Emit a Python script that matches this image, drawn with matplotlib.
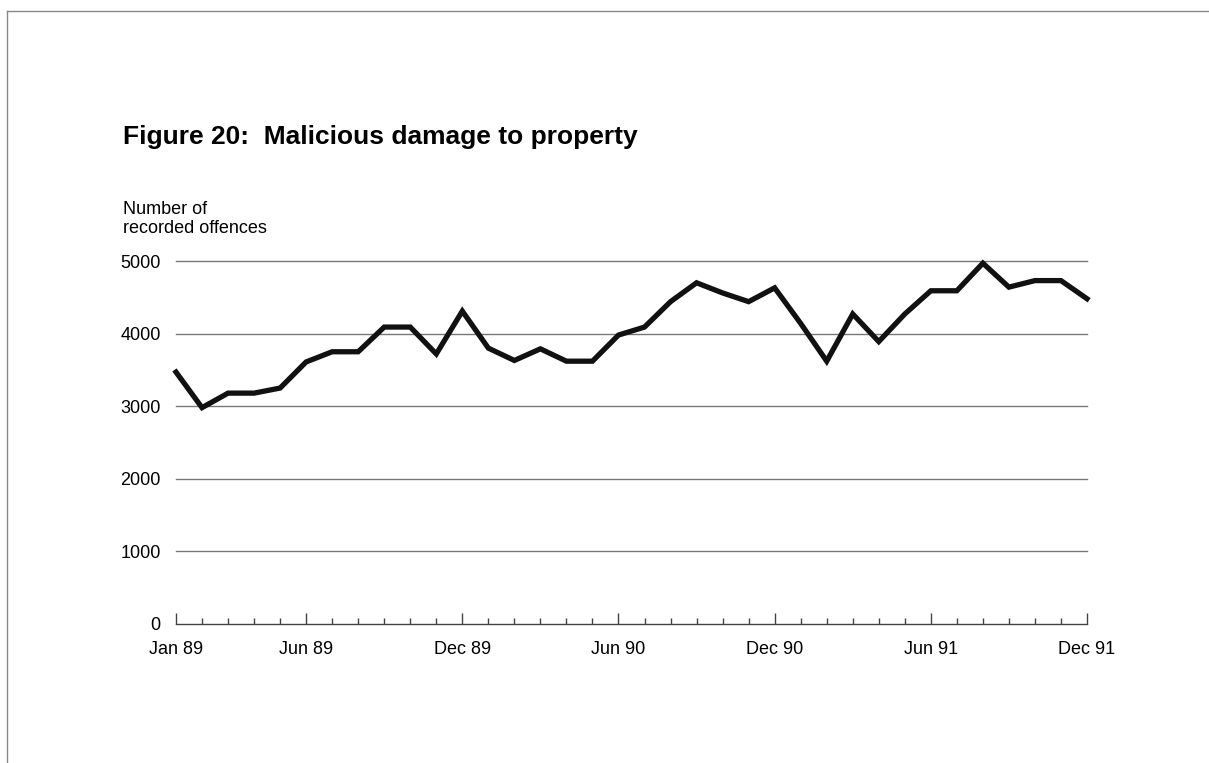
import matplotlib.pyplot as plt
from matplotlib.lines import Line2D

# recorded offences, monthly Jan 89 - Dec 91
months = ['Jan 89', 'Feb 89', 'Mar 89', 'Apr 89', 'May 89', 'Jun 89',
          'Jul 89', 'Aug 89', 'Sep 89', 'Oct 89', 'Nov 89', 'Dec 89',
          'Jan 90', 'Feb 90', 'Mar 90', 'Apr 90', 'May 90', 'Jun 90',
          'Jul 90', 'Aug 90', 'Sep 90', 'Oct 90', 'Nov 90', 'Dec 90',
          'Jan 91', 'Feb 91', 'Mar 91', 'Apr 91', 'May 91', 'Jun 91',
          'Jul 91', 'Aug 91', 'Sep 91', 'Oct 91', 'Nov 91', 'Dec 91']
offences = [3470, 2980, 3180, 3180, 3250, 3610,
            3750, 3750, 4090, 4090, 3720, 4310,
            3800, 3630, 3790, 3620, 3620, 3980,
            4090, 4440, 4700, 4560, 4440, 4630,
            4140, 3620, 4270, 3890, 4270, 4590,
            4590, 4970, 4640, 4730, 4730, 4480]
labelled = ['Jan 89', 'Jun 89', 'Dec 89', 'Jun 90', 'Dec 90', 'Jun 91', 'Dec 91']
yticks = [0, 1000, 2000, 3000, 4000, 5000]

sans = ['Liberation Sans', 'DejaVu Sans']
W, H = 1209, 763

fig = plt.figure(figsize=(W / 100, H / 100), dpi=100)
ax = fig.add_axes([176 / W, (H - 624) / H, (1087 - 176) / W, (624 - 261) / H])

x = list(range(len(months)))
ax.plot(x, offences, color='#111111', lw=3.8, solid_joinstyle='miter', clip_on=False, zorder=3)

ax.set_xlim(0, len(months) - 1)
ax.set_ylim(0, 5000)

for y in yticks[1:]:
    ax.axhline(y, color='#777777', lw=1.0, zorder=1, clip_on=False)

for s in ['top', 'right', 'left']:
    ax.spines[s].set_visible(False)
ax.spines['bottom'].set_color('#444444')
ax.spines['bottom'].set_linewidth(1.0)

major = [months.index(m) for m in labelled]
minor = [i for i in x if i not in major]
ax.set_xticks(major)
ax.set_xticklabels(labelled, family=sans, fontsize=13)
ax.set_xticks(minor, minor=True)
ax.tick_params(axis='x', which='major', direction='in', length=8, width=1, color='#444444', pad=12)
ax.tick_params(axis='x', which='minor', direction='in', length=4, width=1, color='#444444')

ax.set_yticks(yticks)
ax.set_yticklabels([str(v) for v in yticks], family=sans, fontsize=13)
ax.tick_params(axis='y', length=0, pad=11)

fig.text(123 / W, 1 - 137 / H, 'Figure 20:  Malicious damage to property',
         fontsize=19, fontweight='bold', family=sans, va='center', ha='left')
fig.text(123 / W, 1 - 219 / H, 'Number of\nrecorded offences', family=sans,
         fontsize=13, va='center', ha='left', linespacing=1.15)

# page frame
fig.add_artist(Line2D([7 / W, 1], [1 - 11 / H, 1 - 11 / H], color='#888888', lw=1))
fig.add_artist(Line2D([7 / W, 7 / W], [1 - 11 / H, 0], color='#888888', lw=1))

fig.savefig('out.png', dpi=100)
